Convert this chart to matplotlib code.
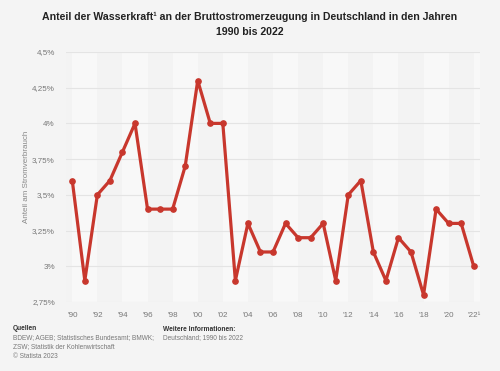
import matplotlib
matplotlib.use("Agg")
import matplotlib.pyplot as plt

plt.rcParams['font.family'] = ['Liberation Sans', 'DejaVu Sans']

# Daten
jahre = list(range(1990, 2023))
anteil = [3.6, 2.9, 3.5, 3.6, 3.8, 4.0, 3.4, 3.4, 3.4, 3.7, 4.3, 4.0, 4.0, 2.9,
          3.3, 3.1, 3.1, 3.3, 3.2, 3.2, 3.3, 2.9, 3.5, 3.6, 3.1, 2.9, 3.2, 3.1,
          2.8, 3.4, 3.3, 3.3, 3.0]
y_ticks = [2.75, 3.0, 3.25, 3.5, 3.75, 4.0, 4.25, 4.5]
y_labels = ['2,75%', '3%', '3,25%', '3,5%', '3,75%', '4%', '4,25%', '4,5%']
x_ticks = list(range(1990, 2023, 2))
x_labels = ["'90", "'92", "'94", "'96", "'98", "'00", "'02", "'04", "'06",
            "'08", "'10", "'12", "'14", "'16", "'18", "'20", "'22¹"]

fig = plt.figure(figsize=(5, 3.71), dpi=100, facecolor='#f4f4f4')
ax = fig.add_axes([0.132, 0.186, 0.828, 0.674])
ax.set_facecolor('#f3f3f3')

# abwechselnde Hintergrundstreifen
for i, start in enumerate(range(1990, 2023, 2)):
    if i % 2 == 0:
        ax.axvspan(start, start + 2, color='#f8f8f8', zorder=0, lw=0)

for y in y_ticks:
    ax.axhline(y, color='#e4e4e4', lw=0.8, zorder=1)

ax.plot(jahre, anteil, color='#c8372d', lw=2.3, marker='o', ms=3.8, zorder=3,
        solid_joinstyle='round')

ax.set_xlim(1989.5, 2022.5)
ax.set_ylim(2.75, 4.5)
ax.set_xticks(x_ticks)
ax.set_xticklabels(x_labels)
ax.set_yticks(y_ticks)
ax.set_yticklabels(y_labels)
ax.tick_params(length=0, labelsize=5.8, colors='#777777', pad=7)
ax.tick_params(axis='y', pad=8)
for s in ax.spines.values():
    s.set_visible(False)

fig.text(0.054, 0.523, 'Anteil am Stromverbrauch', rotation=90, fontsize=5.8,
         color='#888888', ha='center', va='center')

fig.text(0.5, 0.968, 'Anteil der Wasserkraft¹ an der Bruttostromerzeugung in Deutschland in den Jahren\n1990 bis 2022',
         ha='center', va='top', fontsize=7.6, fontweight='bold', color='#222222',
         linespacing=1.6)

fig.text(0.026, 1 - 328 / 371, 'Quellen', fontsize=4.8, fontweight='bold', color='#333333', va='center')
fig.text(0.026, 1 - 337.5 / 371, 'BDEW; AGEB; Statistisches Bundesamt; BMWK;', fontsize=4.7, color='#777777', va='center')
fig.text(0.026, 1 - 346.5 / 371, 'ZSW; Statistik der Kohlenwirtschaft', fontsize=4.7, color='#777777', va='center')
fig.text(0.026, 1 - 356 / 371, '© Statista 2023', fontsize=4.7, color='#777777', va='center')
fig.text(0.326, 1 - 329.5 / 371, 'Weitere Informationen:', fontsize=4.8, fontweight='bold', color='#333333', va='center')
fig.text(0.326, 1 - 338 / 371, 'Deutschland; 1990 bis 2022', fontsize=4.7, color='#777777', va='center')

fig.savefig('out.png', dpi=100, facecolor=fig.get_facecolor())
